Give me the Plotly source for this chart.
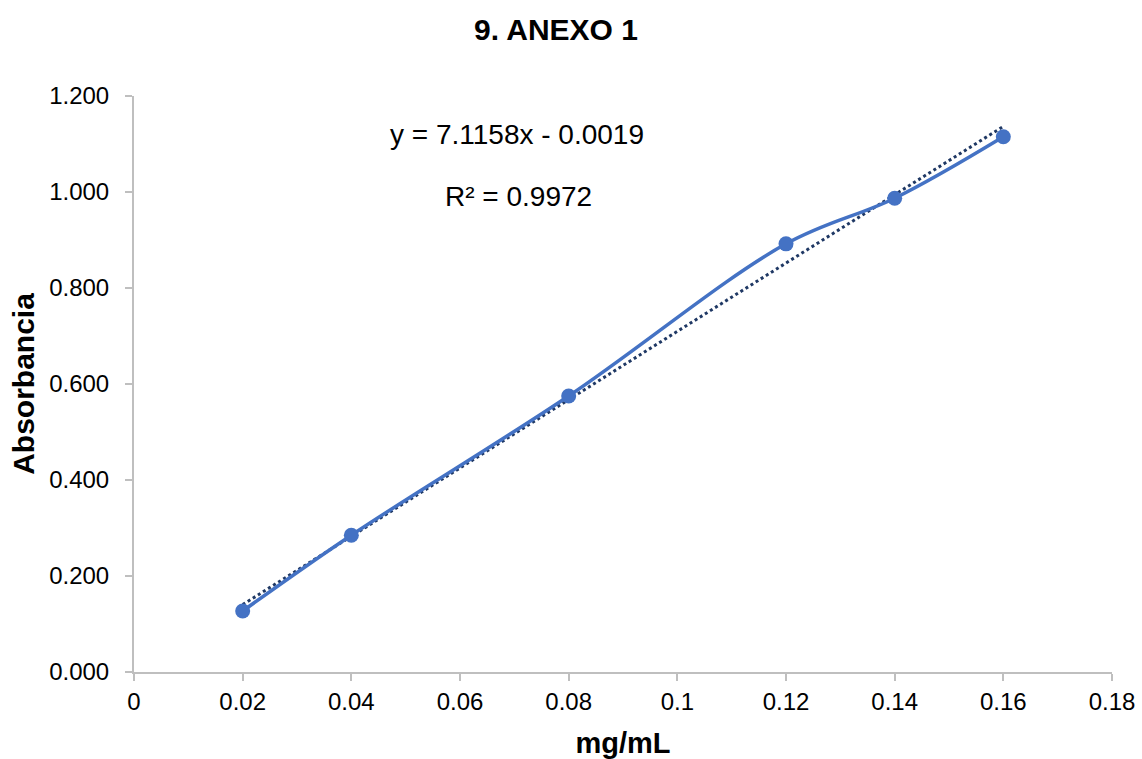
import plotly.graph_objects as go

# Calibration data: concentration (mg/mL) vs absorbance
concentracion = [0.02, 0.04, 0.08, 0.12, 0.14, 0.16]
absorbancia = [0.127, 0.285, 0.575, 0.892, 0.987, 1.115]

# Linear trendline parameters (as reported in the equation label)
pendiente = 7.1158
intercepto = -0.0019
r2 = 0.9972

x_ticks = [0, 0.02, 0.04, 0.06, 0.08, 0.1, 0.12, 0.14, 0.16, 0.18]
x_tick_text = ["0", "0.02", "0.04", "0.06", "0.08", "0.1", "0.12", "0.14", "0.16", "0.18"]
y_ticks = [0, 0.2, 0.4, 0.6, 0.8, 1.0, 1.2]

FONT = "Liberation Sans, Arial, sans-serif"
AZUL = "#4472C4"
AXIS = "#BFBFBF"

x_tend = [concentracion[0], concentracion[-1]]
y_tend = [pendiente * x + intercepto for x in x_tend]

fig = go.Figure()

fig.add_trace(go.Scatter(
    x=x_tend, y=y_tend, mode="lines",
    line=dict(color="#1F3864", width=3, dash="dot"),
    showlegend=False, hoverinfo="skip",
))

fig.add_trace(go.Scatter(
    x=concentracion, y=absorbancia, mode="lines+markers",
    line=dict(color=AZUL, width=3.5, shape="spline", smoothing=1),
    marker=dict(color=AZUL, size=15),
    showlegend=False,
))

ecuacion = f"y = {pendiente:.4f}x - {abs(intercepto):.4f}"
fig.add_annotation(x=0.0705, y=1.119, xref="x", yref="y", text=ecuacion,
                   showarrow=False, font=dict(family=FONT, size=28, color="#000000"))
fig.add_annotation(x=0.0708, y=0.990, xref="x", yref="y", text=f"R² = {r2:.4f}",
                   showarrow=False, font=dict(family=FONT, size=28, color="#000000"))

fig.update_layout(
    width=1142, height=759,
    margin=dict(l=134, r=30, t=96, b=87),
    paper_bgcolor="white", plot_bgcolor="white",
    title=dict(text="<b>9. ANEXO 1</b>", x=556 / 1142, xanchor="center", xref="container",
               y=1 - 29 / 759, yanchor="middle", yref="container",
               font=dict(family=FONT, size=30, color="#000000")),
    font=dict(family=FONT, color="#000000"),
)

fig.update_xaxes(
    range=[0, 0.18], tickvals=x_ticks, ticktext=x_tick_text,
    showgrid=False, zeroline=False, automargin=False,
    showline=True, linecolor=AXIS, linewidth=2,
    ticks="outside", ticklen=7, tickcolor=AXIS, tickwidth=2,
    ticklabelstandoff=0,
    tickfont=dict(family=FONT, size=24, color="#000000"),
    title=dict(text="<b>mg/mL</b>", standoff=20,
               font=dict(family=FONT, size=29, color="#000000")),
)

fig.update_yaxes(
    range=[0, 1.2], tickvals=y_ticks, tickformat=".3f",
    showgrid=False, zeroline=False, automargin=False,
    showline=True, linecolor=AXIS, linewidth=2,
    ticks="outside", ticklen=7, tickcolor=AXIS, tickwidth=2,
    ticklabelstandoff=11,
    tickfont=dict(family=FONT, size=24, color="#000000"),
    title=dict(text="<b>Absorbancia</b>", standoff=6,
               font=dict(family=FONT, size=30, color="#000000")),
)

fig.write_html("out.html")
